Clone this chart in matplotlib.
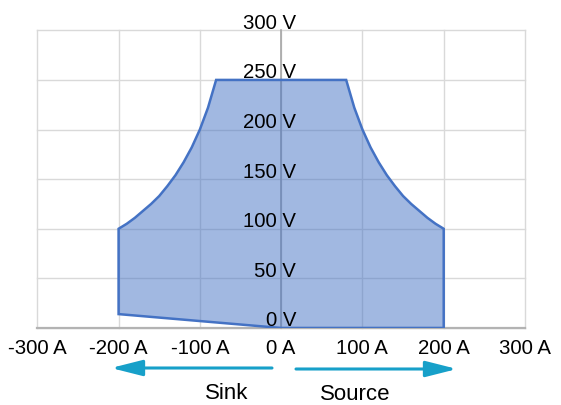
import matplotlib
matplotlib.use("Agg")
import matplotlib.pyplot as plt
from matplotlib.patches import Polygon, FancyArrowPatch

plt.rcParams['font.family'] = ['Liberation Sans', 'DejaVu Sans']

# Operating envelope of the supply: current (A) vs. voltage (V), traced as one closed outline
current = [-200, -200, -190, -180, -170, -160, -150, -140, -130, -120, -110, -100, -90, -80,
           80, 90, 100, 110, 120, 130, 140, 150, 160, 170, 180, 190, 200, 200, 0]
voltage = [14, 100, 105, 111, 118, 125, 133, 143, 154, 167, 182, 200, 222, 250,
           250, 222, 200, 182, 167, 154, 143, 133, 125, 118, 111, 105, 100, 0, 0]

x_ticks = [-300, -200, -100, 0, 100, 200, 300]
x_labels = ["-300 A", "-200 A", "-100 A", "0 A", "100 A", "200 A", "300 A"]
y_ticks = [0, 50, 100, 150, 200, 250, 300]
y_labels = ["0 V", "50 V", "100 V", "150 V", "200 V", "250 V", "300 V"]

W, H = 561, 405
fig = plt.figure(figsize=(W / 100, H / 100), dpi=100)
ax = fig.add_axes([37.3 / W, 77 / H, (525 - 37.3) / W, (328 - 30.3) / H])
ax.set_xlim(-300, 300)
ax.set_ylim(0, 300)
for s in ax.spines.values():
    s.set_visible(False)

ax.set_xticks(x_ticks, x_labels)
ax.set_yticks(y_ticks)
ax.tick_params(axis='x', length=0, pad=8.0, labelsize=14.7)
ax.tick_params(axis='y', length=0, labelleft=False)
ax.grid(True, color='#d9d9d9', lw=1.0, zorder=0)
for gl in ax.get_xgridlines() + ax.get_ygridlines():
    gl.set_clip_on(False)
ax.set_axisbelow(True)

# axis lines through the origin
ax.axhline(0, color='#b3b3b3', lw=1.6, zorder=1.2, clip_on=False)
ax.axvline(0, color='#a6a6a6', lw=1.2, zorder=1.2, clip_on=False)

env = Polygon(list(zip(current, voltage)), closed=True,
              facecolor=(0.267, 0.447, 0.769, 0.5), edgecolor='#4472c4',
              lw=1.8, joinstyle='miter', zorder=2)
ax.add_patch(env)

for v, lab in zip(y_ticks, y_labels):
    ax.annotate(lab, xy=(0, v), xytext=(15, 1.5), textcoords='offset pixels',
                ha='right', va='baseline', fontsize=14.7, color='black',
                annotation_clip=False, zorder=4)

arrow_color = '#17a0c9'
style = '-|>,head_length=19,head_width=4.8'
for x0, x1, y in [(272, 111, 368), (296, 457, 369)]:
    arr = FancyArrowPatch((x0 / W, 1 - y / H), (x1 / W, 1 - y / H),
                          transform=fig.transFigure, arrowstyle=style,
                          mutation_scale=1, lw=2.2, color=arrow_color,
                          shrinkA=0, shrinkB=0)
    fig.add_artist(arr)

fig.text(227 / W, 1 - 399 / H, "Sink", ha='center', va='baseline', fontsize=16)
fig.text(355 / W, 1 - 400 / H, "Source", ha='center', va='baseline', fontsize=16)

fig.savefig("out.png", dpi=100)
